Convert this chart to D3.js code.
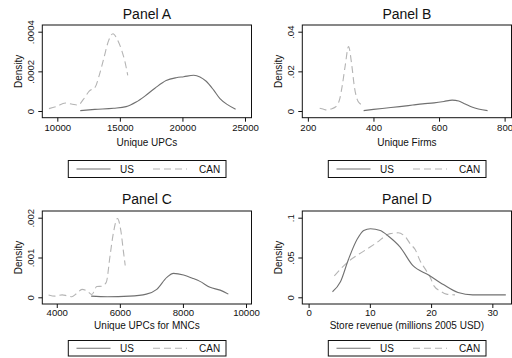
<!DOCTYPE html>
<html>
<head>
<meta charset="utf-8">
<script src="https://cdn.jsdelivr.net/npm/d3@7"></script>
<style>
  body { margin: 0; background: #fff; }
  svg { font-family: "Liberation Sans", Arial, sans-serif; }
</style>
</head>
<body>
<svg id="chart" width="512" height="358"></svg>
<script>
// data: [value, density]
const upcsUS = [[11835, 0.000002], [13000, 0.000008], [14500, 0.000014], [15500, 0.000022], [16300, 0.000045], [17000, 0.000075], [17800, 0.000115], [18700, 0.000154], [19500, 0.000168], [20100, 0.000173], [20900, 0.00018], [21400, 0.000172], [21900, 0.00015], [22500, 0.000105], [23000, 0.000062], [23600, 0.000032], [24250, 0.000009]]
const upcsCAN = [[9330, 0.000012], [9900, 0.000022], [10650, 0.00004], [11200, 0.000034], [11650, 0.00003], [12100, 0.00006], [12550, 0.0001], [13030, 0.000121], [13350, 0.00018], [13700, 0.000262], [14100, 0.000355], [14450, 0.00039], [14800, 0.00036], [15150, 0.000305], [15400, 0.00025], [15630, 0.00018]]

const firmsUS = [[370, 0.0002], [400, 0.0008], [440, 0.0015], [480, 0.0022], [520, 0.003], [550, 0.0036], [585, 0.0041], [615, 0.0048], [640, 0.0055], [660, 0.005], [680, 0.0035], [700, 0.002], [720, 0.001], [748, 0.0002]]
const firmsCAN = [[236, 0.0014], [246, 0.001], [258, 0.0005], [270, 0.001], [284, 0.002], [297, 0.006], [305, 0.013], [314, 0.023], [324, 0.0325], [334, 0.023], [342, 0.012], [350, 0.006], [358, 0.0038], [362, 0.0034]]

const mncUS = [[5090, 0.00003], [5600, 0.000015], [6300, 0.00003], [6840, 0.00008], [7170, 0.0002], [7490, 0.0005], [7700, 0.0006], [8020, 0.00056], [8300, 0.00048], [8540, 0.0004], [8860, 0.00025], [9180, 0.00018], [9440, 0.00008]]
const mncCAN = [[3740, 0.00006], [3950, 0.00003], [4170, 0.00006], [4320, 0.00004], [4480, 0.000015], [4650, 0.00011], [4800, 0.0002], [4960, 0.00016], [5110, 0.00007], [5270, 0.00027], [5430, 0.00028], [5570, 0.00038], [5690, 0.00105], [5800, 0.00164], [5925, 0.00198], [6030, 0.00168], [6115, 0.00114], [6170, 0.0008]]

const revUS = [[3.9, 0.007], [5.2, 0.0195], [6.5, 0.0475], [7.9, 0.0725], [9.0, 0.084], [10.1, 0.0862], [11.7, 0.084], [13.0, 0.077], [14.95, 0.063], [17.0, 0.04], [19.6, 0.028], [22.0, 0.016], [24.4, 0.006], [26.8, 0.003], [29.5, 0.003], [32.2, 0.003]]
const revCAN = [[4.2, 0.027], [6.5, 0.045], [9.0, 0.058], [11.0, 0.068], [13.3, 0.08], [14.6, 0.081], [16.0, 0.074], [16.6, 0.067], [17.4, 0.06], [18.2, 0.046], [19.0, 0.036], [19.8, 0.026], [20.5, 0.014], [21.5, 0.008], [22.5, 0.004], [23.9, 0.003]]

const titles = ['Panel A', 'Panel B', 'Panel C', 'Panel D']
const xLabels = ['Unique UPCs', 'Unique Firms', 'Unique UPCs for MNCs', 'Store revenue (millions 2005 USD)']
const xTicks = [[10000, 15000, 20000, 25000], [200, 400, 600, 800], [4000, 6000, 8000, 10000], [0, 10, 20, 30]]
const yTicks = [[0, 0.0002, 0.0004], [0, 0.02, 0.04], [0, 0.001, 0.002], [0, 0.05, 0.1]]
const yTickLabels = [['0', '.0002', '.0004'], ['0', '.02', '.04'], ['0', '.001', '.002'], ['0', '.05', '.1']]
const xDomains = [[8800, 25520], [183, 821], [3541, 10174], [-1.03, 33.13]]
const legendNames = ['US', 'CAN']
const seriesUS = [upcsUS, firmsUS, mncUS, revUS]
const seriesCAN = [upcsCAN, firmsCAN, mncCAN, revCAN]

const svg = d3.select('#chart')

// panel layout
const cols = [0, 260]
const rows = [
	{ top: 25, bottom: 117.7, title: 19, tick: 131, label: 146, legTop: 160.5, legBot: 177.5 },
	{ top: 211, bottom: 304, title: 204, tick: 316, label: 329, legTop: 340.5, legBot: 356 }
]
const boxLeft = 42.3
const boxRight = 251.5
const usColor = '#707070'
const canColor = '#b4b4b4'

titles.forEach((title, i) => {
	const ox = cols[i % 2]
	const r = rows[Math.floor(i / 2)]
	const g = svg.append('g').attr('transform', `translate(${ox},0)`)

	const x = d3.scaleLinear().domain(xDomains[i]).range([boxLeft, boxRight])
	const yTop = yTicks[i][yTicks[i].length - 1]
	const y = d3.scaleLinear().domain([0, yTop]).range([r.bottom - 6.7, r.top + 6.7])

	// title
	g.append('text')
		.attr('x', (boxLeft + boxRight) / 2)
		.attr('y', r.title)
		.attr('text-anchor', 'middle')
		.attr('font-size', 14)
		.attr('fill', '#111')
		.text(title)

	// curves
	const line = d3.line()
		.x((d) => x(d[0]))
		.y((d) => y(d[1]))
		.curve(d3.curveMonotoneX)

	g.append('path')
		.datum(seriesCAN[i])
		.attr('d', line)
		.attr('fill', 'none')
		.attr('stroke', canColor)
		.attr('stroke-width', 1.1)
		.attr('stroke-dasharray', '7,4')

	g.append('path')
		.datum(seriesUS[i])
		.attr('d', line)
		.attr('fill', 'none')
		.attr('stroke', usColor)
		.attr('stroke-width', 1.1)

	// frame
	g.append('rect')
		.attr('x', boxLeft)
		.attr('y', r.top)
		.attr('width', boxRight - boxLeft)
		.attr('height', r.bottom - r.top)
		.attr('fill', 'none')
		.attr('stroke', '#111')
		.attr('stroke-width', 1)

	// x axis
	const xAxis = g.append('g')
		.attr('transform', `translate(0,${r.bottom})`)
		.call(d3.axisBottom(x).tickValues(xTicks[i]).tickSize(4).tickSizeOuter(0).tickFormat(d3.format('d')))
	xAxis.select('.domain').remove()
	xAxis.selectAll('line').attr('stroke', '#111')
	xAxis.selectAll('text')
		.attr('y', null)
		.attr('dy', null)
		.attr('transform', `translate(0,${r.tick - r.bottom})`)
		.attr('font-size', 9.6)
		.attr('font-family', null)
		.attr('fill', '#111')

	// y axis
	const yAxis = g.append('g')
		.attr('transform', `translate(${boxLeft},0)`)
		.call(d3.axisLeft(y).tickValues(yTicks[i]).tickSize(4).tickSizeOuter(0).tickFormat((d, k) => yTickLabels[i][k]))
	yAxis.select('.domain').remove()
	yAxis.selectAll('line').attr('stroke', '#111')
	yAxis.selectAll('text')
		.attr('x', null)
		.attr('dy', null)
		.attr('y', null)
		.attr('text-anchor', 'middle')
		.attr('transform', 'translate(-8,0) rotate(-90)')
		.attr('font-size', 9.6)
		.attr('font-family', null)
		.attr('fill', '#111')

	// axis titles
	g.append('text')
		.attr('transform', `translate(22,${(r.top + r.bottom) / 2}) rotate(-90)`)
		.attr('text-anchor', 'middle')
		.attr('font-size', 10)
		.attr('fill', '#111')
		.text('Density')

	g.append('text')
		.attr('x', (boxLeft + boxRight) / 2)
		.attr('y', r.label)
		.attr('text-anchor', 'middle')
		.attr('font-size', 10)
		.attr('fill', '#111')
		.text(xLabels[i])

	// legend
	const lx = 68.3
	const lw = 157.7
	const ly = (r.legTop + r.legBot) / 2
	g.append('rect')
		.attr('x', lx)
		.attr('y', r.legTop)
		.attr('width', lw)
		.attr('height', r.legBot - r.legTop)
		.attr('fill', '#fff')
		.attr('stroke', '#111')
		.attr('stroke-width', 1)

	const keys = [
		{ name: legendNames[0], color: usColor, dash: null, x0: 76.5, tx: 120 },
		{ name: legendNames[1], color: canColor, dash: '7,4', x0: 153, tx: 199 }
	]
	keys.forEach((k) => {
		g.append('line')
			.attr('x1', k.x0)
			.attr('x2', k.x0 + 34)
			.attr('y1', ly)
			.attr('y2', ly)
			.attr('stroke', k.color)
			.attr('stroke-width', 1.1)
			.attr('stroke-dasharray', k.dash)
		g.append('text')
			.attr('x', k.tx)
			.attr('y', ly + 3.5)
			.attr('font-size', 10)
			.attr('fill', '#111')
			.text(k.name)
	})
})
</script>
</body>
</html>
